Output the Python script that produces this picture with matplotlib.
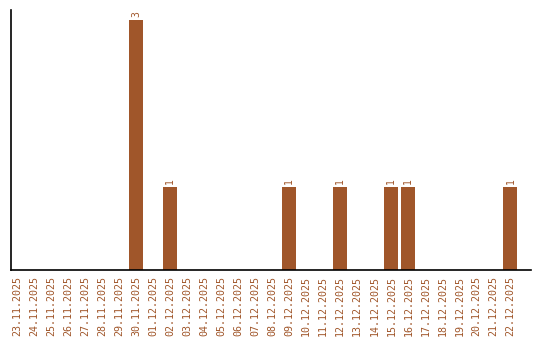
import numpy as np
import matplotlib
matplotlib.use("Agg")
import matplotlib.pyplot as plt
import datetime as dt

start = dt.date(2025, 11, 23)
dates = [(start + dt.timedelta(days=i)).strftime("%d.%m.%Y") for i in range(30)]
counts_by_date = {
    "30.11.2025": 3,
    "02.12.2025": 1,
    "09.12.2025": 1,
    "12.12.2025": 1,
    "15.12.2025": 1,
    "16.12.2025": 1,
    "22.12.2025": 1,
}
counts = [counts_by_date.get(d, 0) for d in dates]

color = "#a0562a"

fig = plt.figure(figsize=(5.4, 3.4), dpi=100)
ax = fig.add_axes([0.0204, 0.206, 0.9626, 0.765])

x = np.arange(len(dates))
ax.bar(x, counts, width=0.82, color=color)
for xi, c in zip(x, counts):
    if c > 0:
        ax.text(xi, c + 0.03, str(c), rotation=90, ha="center", va="bottom",
                fontsize=7, color=color, family="DejaVu Sans Mono")

ax.set_xlim(-0.35, 30.2)
ax.set_ylim(0, 3.12)
ax.set_xticks(x)
ax.set_xticklabels(dates, rotation=90, fontsize=7.2, color=color, family="DejaVu Sans Mono")
ax.tick_params(axis="x", length=0, pad=4)
ax.set_yticks([])
ax.spines["top"].set_visible(False)
ax.spines["right"].set_visible(False)
ax.spines["left"].set_linewidth(1.2)
ax.spines["bottom"].set_linewidth(1.2)

fig.savefig("out.png", dpi=100)
